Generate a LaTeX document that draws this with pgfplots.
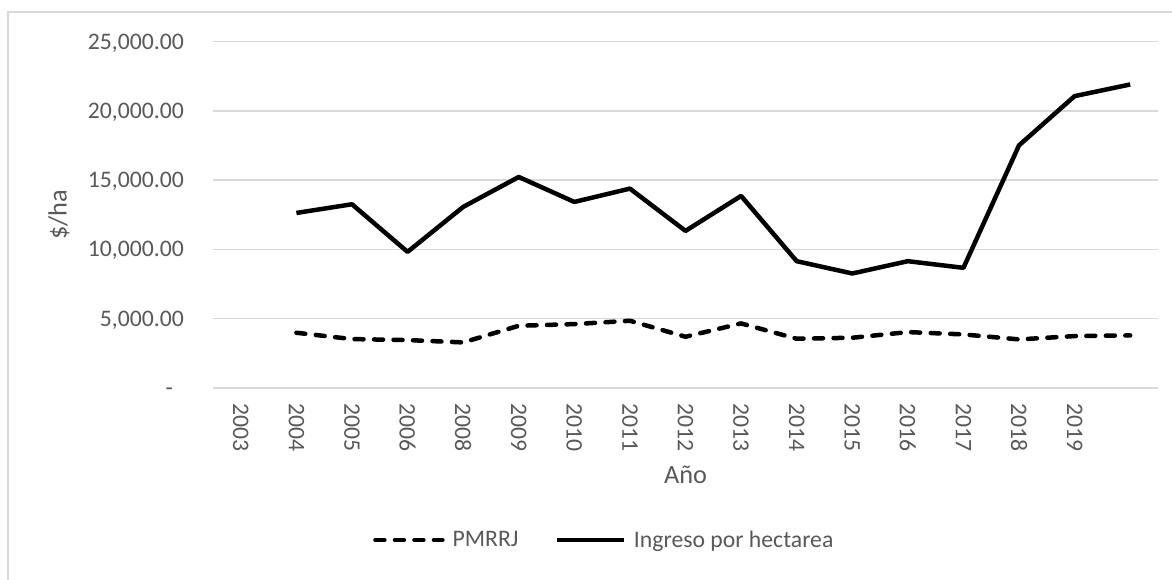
\documentclass[border=0pt]{standalone}
\usepackage{fontspec}
\setmainfont{Carlito}
\usepackage{pgfplots}
\pgfplotsset{compat=1.18}
\definecolor{txt}{HTML}{595959}
\definecolor{gridc}{HTML}{D9D9D9}
\begin{document}
\begin{tikzpicture}[x=1pt,y=1pt]
\useasboundingbox (0,0) rectangle (1172,579);
\fill[white] (0,0) rectangle (1172,579);
\draw[gridc, line width=1.5pt] (8,-5) -- (8,567) -- (1180,567);
\begin{axis}[
  at={(213pt,191pt)}, anchor=south west,
  scale only axis, width=945pt, height=346.5pt,
  xmin=-0.5, xmax=16.5, ymin=0, ymax=25000,
  scaled y ticks=false,
  axis line style={draw=none}, tick style={draw=none},
  ymajorgrids, major grid style={color=gridc, line width=1.5pt},
  xtick={0,...,15},
  xticklabels={2003,2004,2005,2006,2008,2009,2010,2011,2012,2013,2014,2015,2016,2017,2018,2019},
  ytick={0,5000,10000,15000,20000,25000},
  yticklabels={{-\hspace*{11pt}},{5,000.00},{10,000.00},{15,000.00},{20,000.00},{25,000.00}},
  xticklabel shift=15pt,
  xticklabel style={rotate=-90, anchor=west, inner sep=0pt, font=\fontsize{23.7}{28}\selectfont, text=txt},
  yticklabel style={anchor=base east, inner sep=0pt, xshift=-29pt, yshift=-7.5pt, font=\fontsize{23.7}{28}\selectfont, text=txt},
  xlabel={Año}, ylabel={\$/ha},
  xlabel style={at={(axis description cs:0.5,-0.277)}, anchor=base, font=\fontsize{26.3}{30}\selectfont, text=txt},
  ylabel style={at={(axis description cs:-0.163,0.5)}, anchor=center, rotate=0, font=\fontsize{26.3}{30}\selectfont, text=txt},
  legend style={at={(axis description cs:0.1693,-0.4387)}, anchor=west, draw=none, fill=none,
    inner sep=0pt, font=\fontsize{23.7}{28}\selectfont, text=txt,
    /tikz/every odd column/.append style={column sep=6pt},
    /tikz/every even column/.append style={column sep=34pt}},
  legend columns=2,
  legend cell align=left,
  legend image code/.code={\draw[#1] (0pt,0pt) -- (67pt,0pt);},
]
\addplot[black, line width=4.5pt, line cap=round, dash pattern=on 9pt off 10.5pt] coordinates {
(1,3986) (2,3530) (3,3458) (4,3290) (5,4490) (6,4611) (7,4851) (8,3698)
(9,4659) (10,3554) (11,3626) (12,4035) (13,3866) (14,3506) (15,3746) (16,3794)};
\addlegendentry{PMRRJ}
\addplot[black, line width=4.5pt, line join=round] coordinates {
(1,12630) (2,13257) (3,9822) (4,13065) (5,15226) (6,13425) (7,14386) (8,11335)
(9,13858) (10,9150) (11,8262) (12,9150) (13,8670) (14,17510) (15,21060) (16,21900)};
\addlegendentry{Ingreso por hectarea}
\end{axis}
\end{tikzpicture}
\end{document}
